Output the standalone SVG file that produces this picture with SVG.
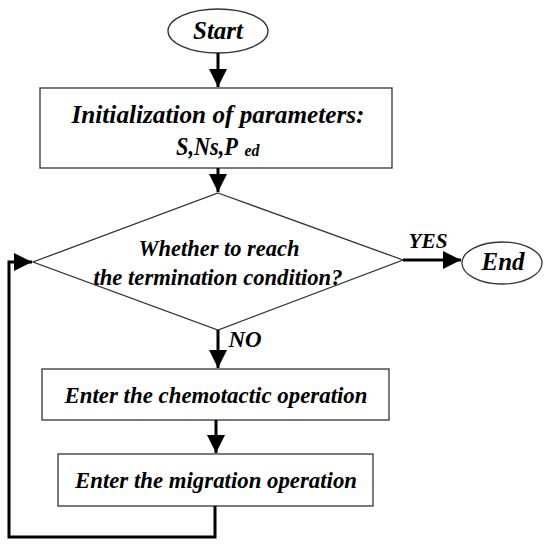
<svg xmlns="http://www.w3.org/2000/svg" width="550" height="545" viewBox="0 0 550 545">
<defs>
<style>
.box{fill:#fff;stroke:#333;stroke-width:1.3}
.t{font-family:"Liberation Serif","Times New Roman",serif;font-weight:bold;font-style:italic;fill:#000;text-anchor:middle}
.c{fill:none;stroke:#000;stroke-width:3}
</style>
<marker id="ah" viewBox="0 0 10 10" refX="10" refY="5" markerWidth="6" markerHeight="6" markerUnits="strokeWidth" orient="auto">
<path d="M0,0 L10,5 L0,10 Z" fill="#000"/>
</marker>
</defs>
<rect width="550" height="545" fill="#fff"/>
<g id="start">
<ellipse class="box" cx="218" cy="31" rx="50" ry="22"/>
<text class="t" x="218" y="39" font-size="25" textLength="50" lengthAdjust="spacingAndGlyphs">Start</text>
</g>
<g id="init">
<rect class="box" x="40" y="88" width="352" height="80"/>
<text class="t" x="218" y="123" font-size="25" textLength="293" lengthAdjust="spacingAndGlyphs">Initialization of parameters:</text>
<text class="t" x="207" y="155" font-size="25" textLength="62" lengthAdjust="spacingAndGlyphs">S,Ns,P</text>
<text class="t" x="252" y="156" font-size="16" textLength="15" lengthAdjust="spacingAndGlyphs">ed</text>
</g>
<g id="decision">
<polygon class="box" points="218,193 403,260 218,330 33,262"/>
<text class="t" x="219" y="256" font-size="23" textLength="161" lengthAdjust="spacingAndGlyphs">Whether to reach</text>
<text class="t" x="218" y="285" font-size="23" textLength="249" lengthAdjust="spacingAndGlyphs">the termination condition?</text>
</g>
<g id="end">
<ellipse class="box" cx="502" cy="263" rx="40" ry="21"/>
<text class="t" x="503" y="270" font-size="25" textLength="43" lengthAdjust="spacingAndGlyphs">End</text>
</g>
<g id="chemo">
<rect class="box" x="42" y="369" width="347" height="51"/>
<text class="t" x="216" y="403" font-size="23" textLength="303" lengthAdjust="spacingAndGlyphs">Enter the chemotactic operation</text>
</g>
<g id="migr">
<rect class="box" x="58" y="454" width="315" height="52"/>
<text class="t" x="216" y="488" font-size="23" textLength="282" lengthAdjust="spacingAndGlyphs">Enter the migration operation</text>
</g>
<g id="connectors">
<line class="c" x1="218" y1="53" x2="218" y2="87" marker-end="url(#ah)"/>
<line class="c" x1="218" y1="168" x2="218" y2="192" marker-end="url(#ah)"/>
<line class="c" x1="403" y1="260" x2="461" y2="260" marker-end="url(#ah)"/>
<line class="c" x1="218" y1="330" x2="218" y2="368" marker-end="url(#ah)"/>
<line class="c" x1="216" y1="420" x2="216" y2="453" marker-end="url(#ah)"/>
<polyline class="c" points="215,506 215,537 9,537 9,262 32,262" marker-end="url(#ah)"/>
<text class="t" x="428" y="248" font-size="21" textLength="39" lengthAdjust="spacingAndGlyphs">YES</text>
<text class="t" x="245" y="347" font-size="23">NO</text>
</g>
</svg>
